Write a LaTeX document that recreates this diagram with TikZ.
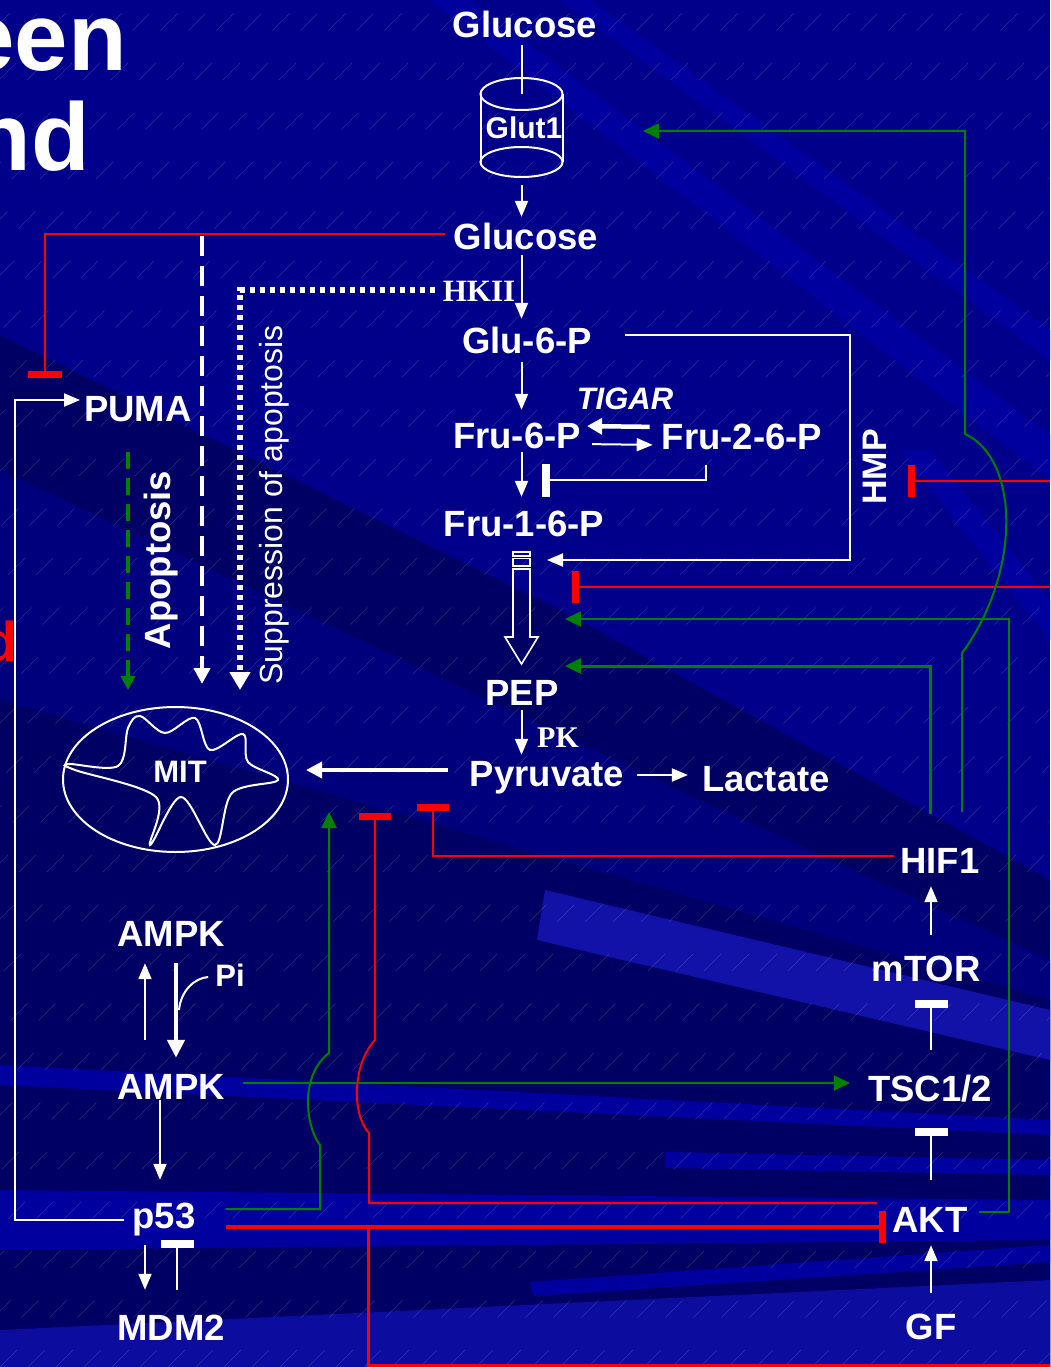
\documentclass[tikz,border=0pt]{standalone}
\usepackage{fontspec}
\setmainfont{Liberation Sans}
\newfontfamily\serifbf{Liberation Serif}
\usetikzlibrary{arrows.meta,calc}
\definecolor{bgnavy}{RGB}{0,0,138}
\definecolor{bgdark}{RGB}{0,0,100}
\definecolor{bgmid}{RGB}{0,0,125}
\definecolor{bglight}{RGB}{18,18,168}
\definecolor{bgstripe}{RGB}{0,0,158}
\definecolor{pgreen}{RGB}{0,128,0}
\definecolor{pred}{RGB}{255,0,0}
\begin{document}
\begin{tikzpicture}[x=1pt,y=-1pt,
  lbl/.style={text=white,inner sep=0pt,font=\fontsize{36.5}{40}\selectfont\bfseries,text height=26pt,text depth=0pt},
  small/.style={lbl,font=\fontsize{31}{34}\selectfont\bfseries,text height=22pt},
  wl/.style={draw=white,line width=2pt},
  arr/.style={wl,-{Triangle[length=16pt,width=13pt]}},
  thickarr/.style={draw=white,line width=4.5pt,-{Triangle[length=15pt,width=16pt]}},
  gl/.style={draw=pgreen,line width=2pt},
  garr/.style={gl,-{Triangle[length=16pt,width=15pt]}},
  rl/.style={draw=pred,line width=2pt},
  winh/.style={wl,-{Rectangle[length=8pt,width=33pt]}},
  rinh/.style={rl,-{Rectangle[length=7pt,width=32pt]}},
]
\useasboundingbox (0,0) rectangle (1050,1367);

% ---------- background ----------
\begin{scope}
\clip (0,0) rectangle (1050,1367);
\fill[bgnavy] (0,0) rectangle (1050,1367);
\fill[bgstripe] (430,0) -- (470,0) -- (1050,435) -- (1050,480) -- cycle;
\fill[bgstripe] (560,0) -- (590,0) -- (1050,330) -- (1050,360) -- cycle;
\fill[bgdark] (0,335) -- (560,610) -- (1050,880) -- (1050,1367) -- (0,1367) -- cycle;
\fill[bgmid] (0,470) -- (700,800) -- (1050,960) -- (1050,1367) -- (0,1367) -- cycle;
\fill[bgdark] (0,700) -- (1050,1000) -- (1050,1367) -- (0,1367) -- cycle;
\fill[bgstripe] (900,450) -- (930,450) -- (1050,600) -- (1050,640) -- cycle;
\fill[bglight] (545,890) -- (1050,1010) -- (1050,1060) -- (537,940) -- cycle;
\fill[bgstripe] (0,1065) -- (1050,1120) -- (1050,1135) -- (0,1085) -- cycle;
\fill[bgstripe] (665,1152) -- (1050,1160) -- (1050,1175) -- (665,1168) -- cycle;
\fill[bgstripe] (0,1190) -- (1050,1200) -- (1050,1240) -- (0,1250) -- cycle;
\fill[bgstripe] (530,1282) -- (1050,1245) -- (1050,1262) -- (534,1296) -- cycle;
\fill[bglight!70!bgnavy] (0,1330) -- (1050,1280) -- (1050,1367) -- (0,1367) -- cycle;
\foreach \c in {-1400,-1372,...,1060}
  \draw[white,opacity=0.16,line width=0.6pt,dash pattern=on 24pt off 46pt] (\c,1367) -- ++(1367,-1367);
\end{scope}

% ---------- title fragments ----------
\node[anchor=base east,inner sep=0pt,text=white,font=\fontsize{96}{100}\selectfont\bfseries] (tt1) at (127,71) {een};
\node[anchor=base east,inner sep=0pt,text=white,font=\fontsize{96}{100}\selectfont\bfseries] (tt2) at (90,171) {nd};
\node[anchor=base east,inner sep=0pt,text=pred,font=\fontsize{56}{60}\selectfont\bfseries] (tt3) at (18,661) {d};

% ---------- labels ----------
\node[lbl] (glc1) at (525,25) {Glucose};
\node[small,font=\fontsize{30}{34}\selectfont\bfseries] (glut) at (524,128) {Glut1};
\node[lbl] (glc2) at (526,236) {Glucose};
\node[small,font=\fontsize{31}{34}\selectfont\serifbf\bfseries] (hk) at (479,290) {HKII};
\node[lbl] (g6p) at (527,340) {Glu-6-P};
\node[small,font=\fontsize{31}{34}\selectfont\bfseries\itshape] (tigar) at (625,398) {TIGAR};
\node[lbl] (f6p) at (517,435) {Fru-6-P};
\node[lbl] (f26p) at (742,436) {Fru-2-6-P};
\node[lbl] (f16p) at (524,523) {Fru-1-6-P};
\node[lbl,font=\fontsize{34}{38}\selectfont\bfseries,rotate=90] (hmp) at (873,467) {HMP};
\node[lbl] (pep) at (522,692) {PEP};
\node[small,font=\fontsize{30}{34}\selectfont\serifbf\bfseries] (pk) at (558,736) {PK};
\node[lbl] (pyr) at (547,773) {Pyruvate};
\node[lbl] (lac) at (766,778) {Lactate};
\node[small] (mit) at (180,771) {MIT};
\node[lbl] (puma) at (138,408) {PUMA};
\node[lbl,rotate=90] (apo) at (157,560) {Apoptosis};
\node[text=white,inner sep=0pt,font=\fontsize{32}{36}\selectfont,text height=23pt,text depth=0pt,rotate=90] (supp) at (271,505) {Suppression of apoptosis};
\node[lbl] (ampk1) at (171,933) {AMPK};
\node[small] (pi) at (230,975) {Pi};
\node[lbl] (ampk2) at (171,1086) {AMPK};
\node[lbl] (p53) at (164,1215) {p53};
\node[lbl] (mdm2) at (171,1327) {MDM2};
\node[lbl] (hif) at (940,860) {HIF1};
\node[lbl] (mtor) at (926,968) {mTOR};
\node[lbl] (tsc) at (930,1088) {TSC1/2};
\node[lbl] (akt) at (930,1219) {AKT};
\node[lbl] (gf) at (931,1326) {GF};

% ---------- Glut1 transporter ----------
\coordinate (gtop) at (521.5,94);
\coordinate (gbot) at (521.5,177);
\begin{scope}[draw=white,line width=2pt]
\draw (gtop) ellipse [x radius=41, y radius=16];
\draw (521.5,162) ellipse [x radius=41, y radius=15];
\draw (480.5,94) -- (480.5,162);
\draw (562.5,94) -- (562.5,162);
\end{scope}

% ---------- glycolysis column ----------
\draw[wl,shorten <=7pt] (glc1.south -| gtop) -- (gtop);
\draw[arr,shorten <=8pt,shorten >=6pt] (gbot) -- (glc2.north -| gbot);
\draw[arr,shorten <=6pt,shorten >=8pt] (glc2.south -| gbot) -- (g6p.north -| gbot);
\draw[arr,shorten <=9pt,shorten >=12pt] (g6p.south -| gbot) -- (f6p.north -| gbot);
\draw[arr,shorten <=4pt,shorten >=13pt] (f6p.south -| gbot) -- (f16p.north -| gbot);
\draw[arr,shorten <=5pt,shorten >=5pt] (pep.south -| gbot) -- (pyr.north -| gbot);

% TIGAR cycle
\draw[thickarr,shorten <=12pt,shorten >=6pt] ([shift={(0,-9)}]f26p.west) -- ([shift={(0,-9)}]f6p.east);
\draw[arr,shorten <=11pt,shorten >=9pt] ([shift={(0,9)}]f6p.east) -- ([shift={(0,9)}]f26p.west);
\coordinate (f26stop) at (542,480);
\draw[winh] ([shift={(-36,16)}]f26p.south) |- (f26stop);

% hexose monophosphate shunt loop
\coordinate (hmpc) at (850,560);
\coordinate (hmpin) at (547,560);
\draw[arr] ([shift={(33,-5)}]g6p.east) -| (hmpc) -- (hmpin);

% hollow arrow Fru-1-6-P -> PEP
\begin{scope}[draw=white,line width=1.6pt]
\draw (513,552) rectangle (530,556);
\draw (513,558.5) rectangle (530,566);
\draw (513,569) -- (530,569) -- (530,637) -- (538,637) -- (521.5,664) -- (505,637) -- (513,637) -- cycle;
\end{scope}

% pyruvate outputs
\coordinate (mitin) at (306,770);
\draw[draw=white,line width=3.5pt,-{Triangle[length=16pt,width=16pt]}] ([shift={(-22,-3)}]pyr.west) -- (mitin);
\draw[arr] ([shift={(13,2)}]pyr.east) -- ([shift={(-14,-3)}]lac.west);

% ---------- mitochondrion ----------
\draw[white,line width=2pt] (175.5,779.5) ellipse [x radius=112.5, y radius=72.5];
\draw[white,line width=2pt] plot[smooth cycle,tension=0.55] coordinates {
  (69,764) (118,766) (128,728) (140,716) (165,733) (195,718) (210,750)
  (243,734) (248,762) (278,780) (232,793) (215,845) (181,797) (150,845)
  (156,797) (75,770)};

% ---------- apoptosis signals ----------
\coordinate (pumastop) at (45,378);
\draw[rinh,-{Rectangle[length=7pt,width=34pt]}] ([shift={(-9,-2)}]glc2.west) -| (pumastop);
\coordinate (dsh1) at (202,236);
\coordinate (dshend) at (202,684);
\draw[draw=white,line width=4pt,dash pattern=on 20pt off 10pt,-{Triangle[length=16pt,width=16pt]}] (dsh1) -- (dshend);
\coordinate (supstop) at (240,690);
\draw[draw=white,line width=5.5pt,dash pattern=on 5pt off 5pt,-{Triangle[length=18pt,width=20pt]}] ([shift={(-8,0)}]hk.west) -| (supstop);
\coordinate (grnstop) at (128,690);
\draw[draw=pgreen,line width=4pt,dash pattern=on 17pt off 9pt,-{Triangle[length=14pt,width=14pt]}] ([shift={(-10,31)}]puma.south) -- (grnstop);

% p53 -> PUMA
\coordinate (lft) at (15,400);
\draw[arr] ([shift={(-8,5)}]p53.west) -| (lft) -- ([shift={(-4,-8)}]puma.west);

% ---------- AMPK / p53 ----------
\draw[arr] ([shift={(-26,-33)}]ampk2.north) -- ([shift={(-26,17)}]ampk1.south);
\draw[draw=white,line width=4.5pt,-{Triangle[length=18pt,width=17pt]}] ([shift={(5,17)}]ampk1.south) -- ([shift={(5,-15)}]ampk2.north);
\coordinate (pifork) at (179,1010);
\draw[wl] (pifork) .. controls (181,990) and (195,978) .. ([shift={(-7,2)}]pi.west);
\draw[arr,shorten <=1pt,shorten >=22pt] (ampk2.south -| 160,0) -- (p53.north -| 160,0);
\draw[arr] ([shift={(-19,17)}]p53.south) -- ([shift={(-26,-24)}]mdm2.north);
\coordinate (mdmstop) at (177,1240);
\draw[winh] ([shift={(6,-24)}]mdm2.north) -- (mdmstop);
\draw[garr] ([shift={(18,-3)}]ampk2.east) -- ([shift={(-18,-5)}]tsc.west);

% ---------- growth-factor axis ----------
\draw[arr,shorten <=20pt,shorten >=13pt] (mtor.north -| 931,0) -- (hif.south -| 931,0);
\draw[winh,shorten <=25pt,shorten >=19pt] (tsc.north -| 931,0) -- (mtor.south -| 931,0);
\draw[winh,shorten <=26pt,shorten >=27pt] (akt.north -| 931,0) -- (tsc.south -| 931,0);
\draw[arr,shorten <=20pt,shorten >=13pt] (gf.north -| 931,0) -- (akt.south -| 931,0);

% p53 inhibits AKT
\draw[draw=pred,line width=4pt,-{Rectangle[length=7pt,width=32pt]}] ([shift={(30,12)}]p53.east) -- ([shift={(-6.5,8)}]akt.west);

% AKT / HIF1 feedback onto glycolysis
\coordinate (rhmp) at (1050,481);
\coordinate (rhmpstop) at (908,481);
\draw[rinh] (rhmp) -- (rhmpstop);
\coordinate (rflux) at (1050,587);
\coordinate (rfluxstop) at (572,587);
\draw[rinh] (rflux) -- (rfluxstop);
\coordinate (aktup) at (1009,619);
\coordinate (gin1) at (565,619);
\draw[garr] ([shift={(11,-7)}]akt.east) -| (aktup) -- (gin1);
\coordinate (gin2) at (565,666);
\draw[garr,line width=3pt] ([shift={(-10,-33)}]hif.north) |- (gin2);
\coordinate (glutin) at (643,131);
\draw[garr] ([shift={(22,-35)}]hif.north) -- (962,653) .. controls (1020,575) and (1021,460) .. (965,434) -- (965,131) -- (glutin);
\coordinate (hifstop) at (433,804);
\draw[rinh] ([shift={(-6,-4)}]hif.west) -| (hifstop);

% p53 -> mitochondria (green) and AKT -| mitochondria (red)
\coordinate (p53mit) at (329,812);
\draw[garr] ([shift={(30,-6)}]p53.east) -- (320,1209) -- (320,1145) .. controls (305,1125) and (300,1075) .. (329,1053) -- (p53mit);
\coordinate (aktmit) at (375,813);
\draw[rinh] ([shift={(-15,-16)}]akt.west) -- (369,1203) -- (369,1133) .. controls (352,1115) and (352,1065) .. (375,1040) -- (aktmit);
\coordinate (rb1) at (368,1229);
\coordinate (rb2) at (1050,1365);
\draw[draw=pred,line width=3pt] (rb1) |- (rb2);
\end{tikzpicture}
\end{document}
